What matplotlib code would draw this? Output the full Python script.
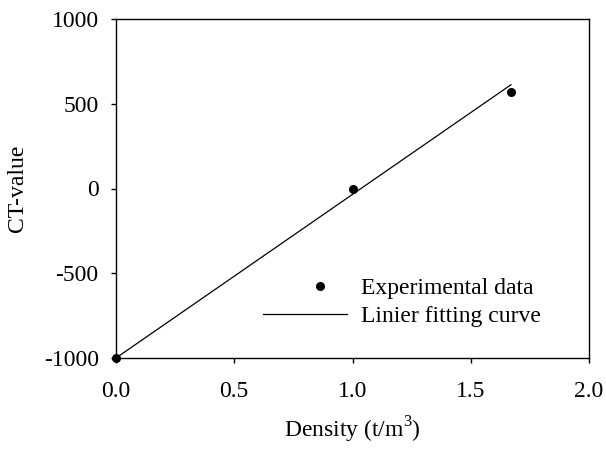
import matplotlib
matplotlib.use("Agg")
import matplotlib.pyplot as plt
from matplotlib.legend_handler import HandlerLine2D
from matplotlib.lines import Line2D

plt.rcParams['font.family'] = ['Liberation Serif', 'DejaVu Serif']
plt.rcParams['mathtext.fontset'] = 'custom'
plt.rcParams['mathtext.rm'] = 'Liberation Serif'

# Data
density = [0.0, 1.0, 1.67]
ct_value = [-1000, 0, 570]
fit_x = [0.0, 1.67]
fit_y = [-1000, 612]

xticks = [0.0, 0.5, 1.0, 1.5, 2.0]
xticklabels = ['0.0', '0.5', '1.0', '1.5', '2.0']
yticks = [-1000, -500, 0, 500, 1000]
yticklabels = ['-1000', '-500', '0', '500', '1000']


class ShiftedMarkerHandler(HandlerLine2D):
    def create_artists(self, legend, orig_handle, xdescent, ydescent, width, height,
                       fontsize, trans):
        x = -xdescent + 0.68 * width
        y = (height - ydescent) / 2
        line = Line2D([x], [y])
        self.update_prop(line, orig_handle, legend)
        line.set_transform(trans)
        return [line]


fig = plt.figure(figsize=(6.06, 4.5), dpi=100)
ax = fig.add_axes([116/606, 1-358/450, (589-116)/606, (358-19)/450])

pts, = ax.plot(density, ct_value, 'o', color='black', markersize=5.5, label='Experimental data',
               clip_on=False, zorder=5)
ax.plot(fit_x, fit_y, '-', color='black', linewidth=0.9, label='Linier fitting curve')

ax.set_xlim(0, 2)
ax.set_ylim(-1000, 1000)
ax.set_xticks(xticks)
ax.set_xticklabels(xticklabels)
ax.set_yticks(yticks)
ax.set_yticklabels(yticklabels)
ax.tick_params(direction='out', length=3.5, width=1.0, labelsize=17)
ax.tick_params(axis='x', pad=13)
ax.tick_params(axis='y', pad=9)
for s in ax.spines.values():
    s.set_linewidth(1.0)

ax.set_xlabel(r'Density (t/m$^\mathregular{3}$)', fontsize=17, labelpad=9)
ax.set_ylabel('CT-value', fontsize=17, labelpad=11)

leg = ax.legend(loc='lower right', bbox_to_anchor=(0.899, 0.092), frameon=False, fontsize=17,
                handlelength=3.55, handletextpad=0.6, labelspacing=0.25, borderaxespad=0,
                borderpad=0, handler_map={pts: ShiftedMarkerHandler()})

fig.savefig('out.png', dpi=100)
